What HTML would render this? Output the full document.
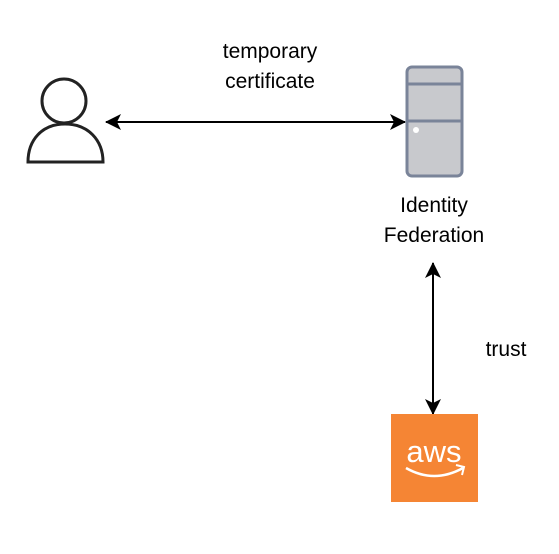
<!DOCTYPE html>
<html><head><style>body{margin:0;background:#fff}</style></head><body>
<svg width="559" height="549" xmlns="http://www.w3.org/2000/svg" font-family="Liberation Sans, sans-serif">
<defs>
<marker id="b" markerWidth="16" markerHeight="16" refX="15" refY="8" orient="auto-start-reverse" markerUnits="userSpaceOnUse"><path d="M0,0 L16,8 L0,16 L4,8 Z" fill="#000"/></marker>
</defs>
<circle cx="64" cy="101" r="22" fill="none" stroke="#222" stroke-width="3"/>
<path d="M28,162 L103,162 C103,140 88,124 65,124 C42,124 28,140 28,162 Z" fill="none" stroke="#222" stroke-width="3"/>
<line x1="106" y1="122" x2="405" y2="122" stroke="#000" stroke-width="2" marker-start="url(#b)" marker-end="url(#b)"/>
<text x="270" y="58" font-size="21" text-anchor="middle">temporary</text>
<text x="270" y="88" font-size="21" text-anchor="middle">certificate</text>
<rect x="407" y="67" width="55" height="109" rx="5" fill="#c8c9cd" stroke="#7a8499" stroke-width="3"/>
<line x1="407" y1="84" x2="462" y2="84" stroke="#7a8499" stroke-width="3"/>
<line x1="407" y1="121" x2="462" y2="121" stroke="#7a8499" stroke-width="3"/>
<circle cx="416" cy="130" r="3" fill="#fff"/>
<text x="434" y="212" font-size="21" text-anchor="middle">Identity</text>
<text x="434" y="242" font-size="21" text-anchor="middle">Federation</text>
<line x1="433" y1="263" x2="433" y2="414" stroke="#000" stroke-width="2" marker-start="url(#b)" marker-end="url(#b)"/>
<text x="506" y="356" font-size="21" text-anchor="middle">trust</text>
<rect x="391" y="414" width="87" height="88" fill="#f58534"/>
<text x="434" y="462" font-size="31" fill="#fff" text-anchor="middle">aws</text>
<path d="M406,468 Q434,484 463,468" fill="none" stroke="#fff" stroke-width="2.5"/>
<path d="M456,465 L464,467 L462,475" fill="none" stroke="#fff" stroke-width="2"/>
</svg>
</body></html>
